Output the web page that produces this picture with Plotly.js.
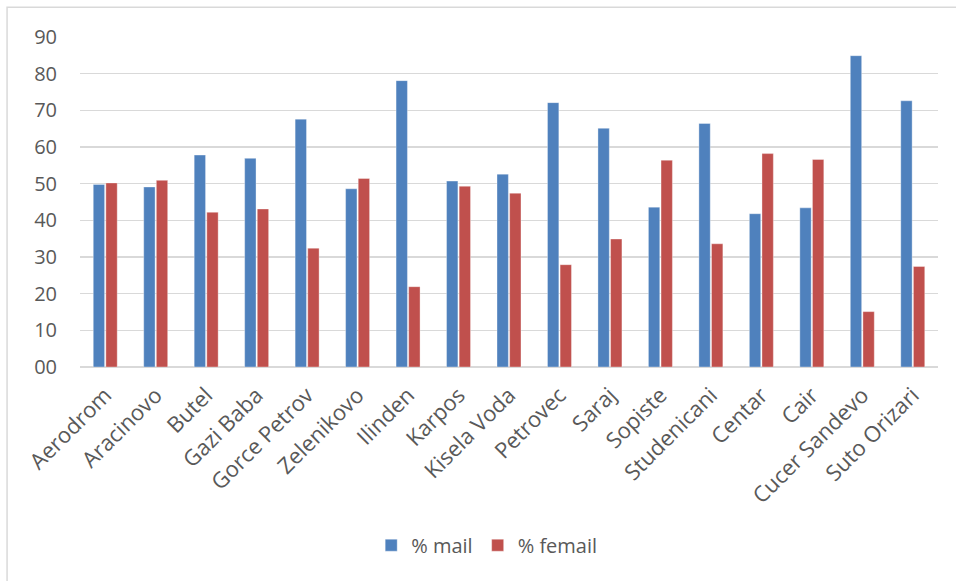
<!DOCTYPE html>
<html>
<head>
<meta charset="utf-8">
<script src="https://cdn.plot.ly/plotly-3.0.1.min.js"></script>
<style>
  html, body { margin: 0; padding: 0; background: #ffffff; }
  #chart { width: 956px; height: 581px; }
</style>
</head>
<body>
<div id="chart"></div>
<script>
// Municipalities of the Skopje region
const municipalities = [
  'Aerodrom', 'Aracinovo', 'Butel', 'Gazi Baba', 'Gorce Petrov', 'Zelenikovo',
  'Ilinden', 'Karpos', 'Kisela Voda', 'Petrovec', 'Saraj', 'Sopiste',
  'Studenicani', 'Centar', 'Cair', 'Cucer Sandevo', 'Suto Orizari'
];

// Share of male and female, in percent
const malePct = [49.8, 49.1, 57.8, 56.9, 67.6, 48.6, 78.1, 50.7, 52.6, 72.1, 65.1, 43.6, 66.4, 41.8, 43.4, 84.9, 72.6];
const femalePct = [50.2, 50.9, 42.2, 43.1, 32.4, 51.4, 21.9, 49.3, 47.4, 27.9, 34.9, 56.4, 33.6, 58.2, 56.6, 15.1, 27.4];

const yTickVals = [0, 10, 20, 30, 40, 50, 60, 70, 80, 90];
const yTickText = ['00', '10', '20', '30', '40', '50', '60', '70', '80', '90'];

const seriesNames = ['% mail', '% femail'];

const FONT = '"Open Sans", "Noto Sans", "Liberation Sans", sans-serif';
const TEXT_GREY = '#595959';
const GRID_GREY = '#d9d9d9';

const traces = [
  {
    type: 'bar',
    name: seriesNames[0],
    x: municipalities,
    y: malePct,
    marker: { color: '#4f81bd', line: { color: 'rgba(255,255,255,0.35)', width: 1 } },
    hoverinfo: 'x+y'
  },
  {
    type: 'bar',
    name: seriesNames[1],
    x: municipalities,
    y: femalePct,
    marker: { color: '#c0504d', line: { color: 'rgba(255,255,255,0.35)', width: 1 } },
    hoverinfo: 'x+y'
  }
];

const layout = {
  width: 956,
  height: 581,
  margin: { l: 80, r: 18, t: 37, b: 214, pad: 0 },
  paper_bgcolor: '#ffffff',
  plot_bgcolor: '#ffffff',
  font: { family: FONT, size: 20, color: TEXT_GREY },
  barmode: 'group',
  bargap: 0.5,
  bargroupgap: 0.1,
  showlegend: true,
  legend: {
    orientation: 'h',
    x: 0.474, xanchor: 'center',
    y: -0.54, yanchor: 'middle',
    font: { family: FONT, size: 20, color: TEXT_GREY },
    itemwidth: 30,
    traceorder: 'normal'
  },
  xaxis: {
    type: 'category',
    tickangle: -45,
    tickfont: { family: FONT, size: 22, color: TEXT_GREY },
    showgrid: false,
    showline: false,
    zeroline: false,
    ticks: '',
    ticklabelstandoff: 10,
    automargin: false
  },
  yaxis: {
    range: [0, 90],
    tickvals: yTickVals,
    ticktext: yTickText,
    tickfont: { family: FONT, size: 20, color: TEXT_GREY },
    showgrid: true,
    gridcolor: GRID_GREY,
    gridwidth: 1.5,
    zeroline: true,
    zerolinecolor: GRID_GREY,
    zerolinewidth: 1.5,
    showline: false,
    ticks: '',
    ticklabelstandoff: 22,
    automargin: false,
    fixedrange: true
  },
  shapes: [
    {
      // chart frame
      type: 'rect',
      xref: 'paper', yref: 'paper',
      x0: -0.085, x1: 1.03,
      y0: -0.75, y1: 1.09,
      line: { color: GRID_GREY, width: 1.5 },
      fillcolor: 'rgba(0,0,0,0)',
      layer: 'below'
    }
  ]
};

Plotly.newPlot('chart', traces, layout, { displayModeBar: false, staticPlot: true });
</script>
</body>
</html>
